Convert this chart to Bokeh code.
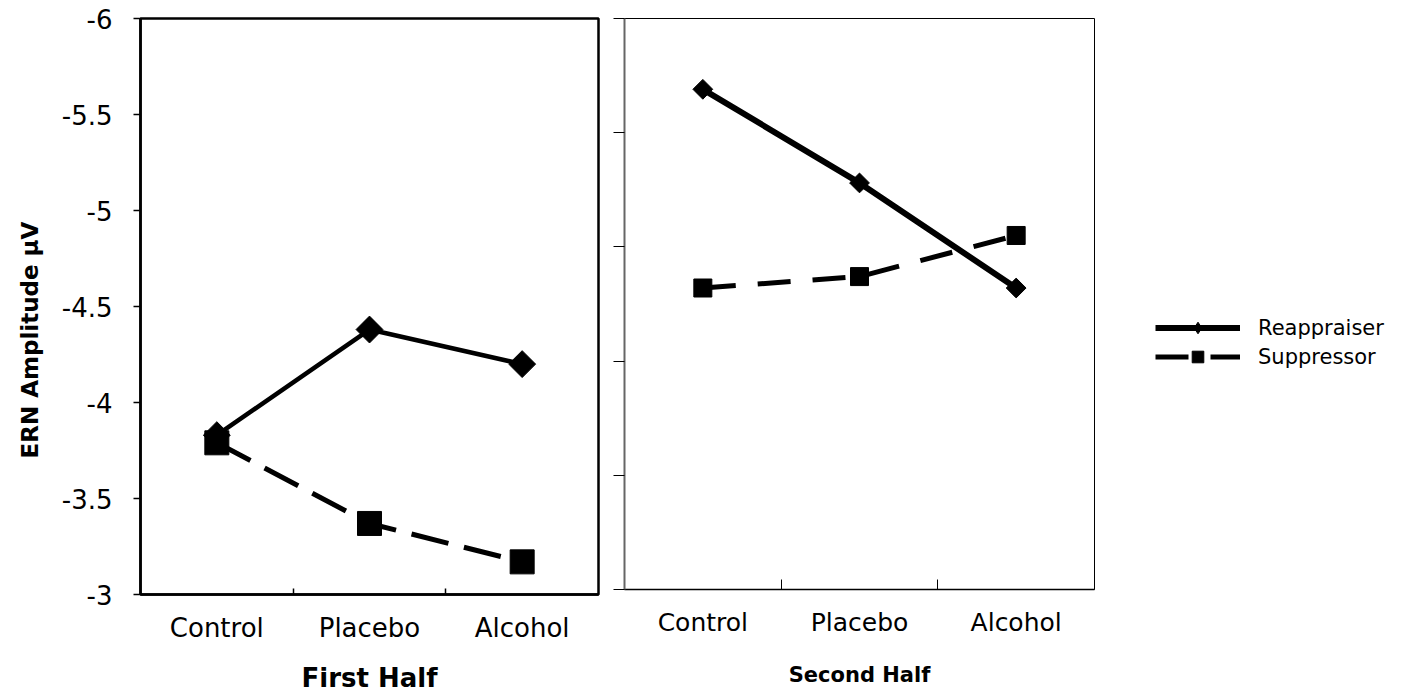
import math
from bokeh.plotting import figure
from bokeh.models import Range1d, FixedTicker, Legend, LegendItem, Title
from bokeh.layouts import row
from bokeh.embed import file_html
from bokeh.resources import INLINE

# ---------------- data ----------------
categories = ["Control", "Placebo", "Alcohol"]
first_reappraiser = [-3.83, -4.38, -4.20]
first_suppressor = [-3.79, -3.37, -3.17]
second_reappraiser = [-5.69, -5.28, -4.82]
second_suppressor = [-4.82, -4.87, -5.05]
y_ticks_first = [-6, -5.5, -5, -4.5, -4, -3.5, -3]
y_ticks_second = [-6, -5.5, -5, -4.5, -4, -3.5]
panel_titles = ["First Half", "Second Half"]
y_title = "ERN Amplitude  μV"
series_names = ["Reappraiser", "Suppressor"]

FONT = "DejaVu Sans"
xpos = [i + 0.5 for i in range(len(categories))]
between = [float(i) for i in range(1, len(categories))]
cat_overrides = {p: c for p, c in zip(xpos, categories)}


def base_fig(fw, fh, yr, bl, br, bt):
    p = figure(frame_width=fw, frame_height=fh, x_range=Range1d(0, len(categories)),
               y_range=yr, output_backend="svg", toolbar_location=None,
               min_border_left=bl, min_border_right=br, min_border_top=bt,
               min_border_bottom=0)
    p.grid.visible = False
    p.background_fill_color = "white"
    p.border_fill_color = "white"
    return p


# ---------------- first half ----------------
p1 = base_fig(458, 576, Range1d(-3, -6), 140, 10, 15)
p1.outline_line_color = "black"
p1.outline_line_width = 2.5

ya = p1.yaxis[0]
ya.ticker = FixedTicker(ticks=y_ticks_first)
ya.major_label_overrides = {t: f"{t:g}" for t in y_ticks_first}
ya.major_tick_out = 7
ya.major_tick_in = 0
ya.major_tick_line_width = 1.5
ya.axis_line_width = 2.5
ya.major_label_standoff = 21
ya.major_label_text_font = FONT
ya.major_label_text_font_size = "26px"
ya.major_label_text_color = "black"

xa = p1.xaxis[0]
xa.ticker = FixedTicker(ticks=xpos, minor_ticks=between)
xa.major_label_overrides = cat_overrides
xa.major_tick_in = 0
xa.major_tick_out = 0
xa.minor_tick_in = 6
xa.minor_tick_out = 0
xa.minor_tick_line_color = "black"
xa.minor_tick_line_width = 1.5
xa.axis_line_width = 2.5
xa.major_label_standoff = 18
xa.major_label_text_font = FONT
xa.major_label_text_font_size = "26px"
xa.major_label_text_color = "black"
xa.axis_label = panel_titles[0]
xa.axis_label_text_font = FONT
xa.axis_label_text_font_size = "26px"
xa.axis_label_text_font_style = "bold"
xa.axis_label_standoff = 17
xa.axis_label_text_color = "black"

p1.line(xpos, first_reappraiser, line_width=4.5, line_color="black")
p1.scatter(xpos, first_reappraiser, marker="square", angle=math.pi / 4, size=19,
           fill_color="black", line_color="black")
p1.line(xpos, first_suppressor, line_width=5, line_color="black", line_dash="38 16")
p1.scatter(xpos, first_suppressor, marker="square", size=24,
           fill_color="black", line_color="black")

p1.add_layout(Title(text=y_title, align="left", offset=136, vertical_align="middle",
                    standoff=29, text_font=FONT, text_font_size="23px",
                    text_font_style="bold", text_color="black"), "left")

# ---------------- second half ----------------
p2 = base_fig(470, 571, Range1d(-3.5, -6), 16, 290, 18)
p2.outline_line_color = "black"
p2.outline_line_width = 1

ya2 = p2.yaxis[0]
ya2.ticker = FixedTicker(ticks=y_ticks_second)
ya2.major_label_overrides = {t: "" for t in y_ticks_second}
ya2.major_tick_out = 11
ya2.major_tick_in = 0
ya2.major_tick_line_width = 1
ya2.axis_line_width = 2
ya2.axis_line_color = "#666666"
ya2.major_label_standoff = 0

xa2 = p2.xaxis[0]
xa2.ticker = FixedTicker(ticks=xpos, minor_ticks=between)
xa2.major_label_overrides = cat_overrides
xa2.major_tick_in = 0
xa2.major_tick_out = 0
xa2.minor_tick_in = 10
xa2.minor_tick_out = 0
xa2.minor_tick_line_color = "black"
xa2.minor_tick_line_width = 1
xa2.axis_line_width = 1.5
xa2.major_label_standoff = 18
xa2.major_label_text_font = FONT
xa2.major_label_text_font_size = "25px"
xa2.major_label_text_color = "black"
xa2.axis_label = panel_titles[1]
xa2.axis_label_text_font = FONT
xa2.axis_label_text_font_size = "21px"
xa2.axis_label_text_font_style = "bold"
xa2.axis_label_standoff = 23
xa2.axis_label_text_color = "black"

l1 = p2.line(xpos, second_reappraiser, line_width=6, line_color="black")
d1 = p2.scatter(xpos, second_reappraiser, marker="diamond", size=16,
                fill_color="black", line_color="black")
p2.scatter(xpos, second_reappraiser, marker="square", angle=math.pi / 4, size=14,
           fill_color="black", line_color="black")
l2 = p2.line(xpos, second_suppressor, line_width=5, line_color="black", line_dash="33 22")
s2 = p2.scatter(xpos, second_suppressor, marker="square", size=18,
                fill_color="black", line_color="black")

legend = Legend(items=[LegendItem(label=series_names[0], renderers=[l1, d1]),
                       LegendItem(label=series_names[1], renderers=[l2, s2])],
                location=(61, 218), glyph_width=85, glyph_height=29, spacing=0,
                padding=0, margin=0, border_line_color=None, background_fill_alpha=0,
                label_text_font=FONT, label_text_font_size="21px", label_standoff=18,
                label_text_color="black")
p2.add_layout(legend, "right")

layout = row(p1, p2)
open("out.html", "w").write(file_html(layout, INLINE))
